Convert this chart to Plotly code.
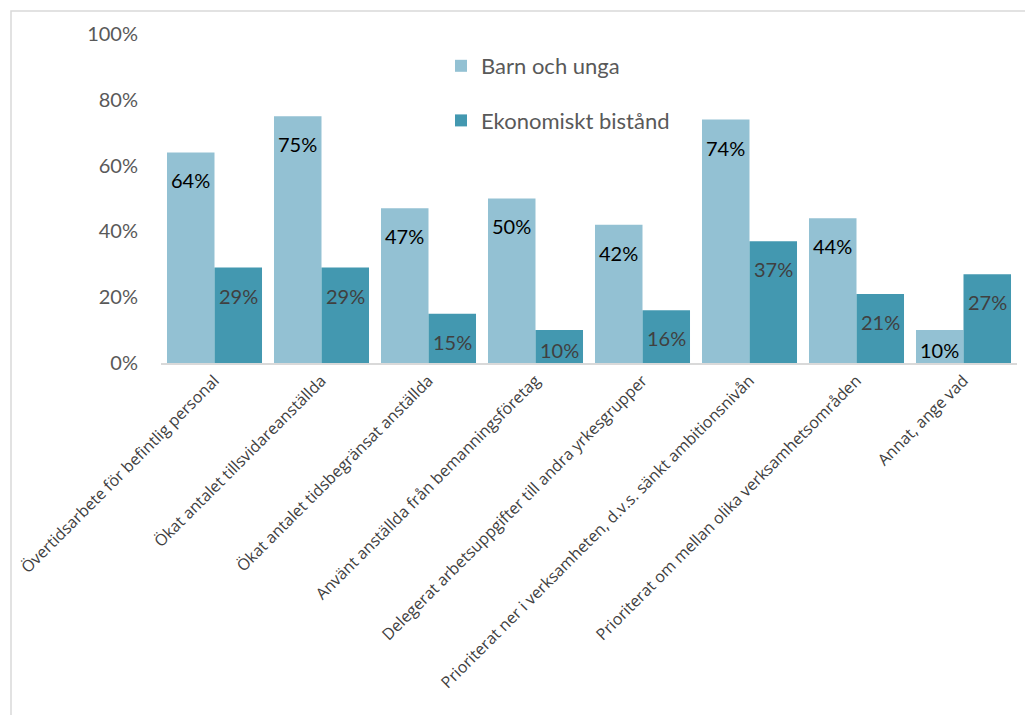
import plotly.graph_objects as go

categories = [
    "Övertidsarbete för befintlig personal",
    "Ökat antalet tillsvidareanställda",
    "Ökat antalet tidsbegränsat anställda",
    "Använt anställda från bemanningsföretag",
    "Delegerat arbetsuppgifter till andra yrkesgrupper",
    "Prioriterat ner i verksamheten, d.v.s. sänkt ambitionsnivån",
    "Prioriterat om mellan olika verksamhetsområden",
    "Annat, ange vad",
]
barn_och_unga = [64, 75, 47, 50, 42, 74, 44, 10]
ekonomiskt_bistand = [29, 29, 15, 10, 16, 37, 21, 27]
series_names = ["Barn och unga", "Ekonomiskt bistånd"]
y_ticks = [0, 20, 40, 60, 80, 100]
y_tick_labels = ["0%", "20%", "40%", "60%", "80%", "100%"]

LIGHT = "#93C1D3"
DARK = "#4398B0"

OFF = 8  # page body margin
W, H = 1033, 715
ML, MT = 161 - OFF, 34 - OFF
MR = W - (1017 - OFF)
MB = H - (363 - OFF)
pw = W - ML - MR
ph = H - MT - MB

fig = go.Figure()
fig.add_trace(go.Bar(x=categories, y=barn_och_unga, name=series_names[0],
                     marker=dict(color=LIGHT, line=dict(width=0)), legendgroup="a"))
fig.add_trace(go.Bar(x=categories, y=ekonomiskt_bistand, name=series_names[1],
                     marker=dict(color=DARK, line=dict(width=0)), legendgroup="b"))

# data labels
group_px = pw / len(categories)
bargap = 0.112
bar_px = group_px * (1 - bargap) / 2
for vals, sign, col in [(barn_och_unga, -1, "#000000"), (ekonomiskt_bistand, 1, "#404040")]:
    for c, v in zip(categories, vals):
        fig.add_annotation(x=c, y=max(v - 8.5, 4), text=f"{v}%", showarrow=False,
                           xshift=sign * bar_px / 2, yanchor="middle",
                           font=dict(family="Lato, Open Sans, sans-serif", size=20, color=col))

# outer border
fig.add_shape(type="rect", xref="paper", yref="paper",
              x0=(11 - OFF - ML) / pw, x1=(W + 20 - ML) / pw,
              y0=-(H + 20 - MT - ph) / ph, y1=(H - (11 - OFF) - MB) / ph,
              line=dict(color="#D9D9D9", width=1.5), fillcolor="rgba(0,0,0,0)", layer="below")

fig.update_layout(
    width=W, height=H,
    margin=dict(l=ML, r=MR, t=MT, b=MB, autoexpand=False),
    paper_bgcolor="white", plot_bgcolor="white",
    barmode="group", bargap=bargap, bargroupgap=0,
    showlegend=True,
    legend=dict(x=(441 - OFF - ML) / pw, y=(H - MB - (45 - OFF)) / ph, xanchor="left", yanchor="top",
                bgcolor="rgba(0,0,0,0)", traceorder="grouped", tracegroupgap=23,
                font=dict(family="Lato, Open Sans, sans-serif", size=22, color="#595959"),
                itemwidth=30),
    xaxis=dict(tickangle=-45, showgrid=False, showline=True, linecolor="#D9D9D9", linewidth=2,
               ticks="", tickfont=dict(family="Open Sans, sans-serif", size=16, color="#404040")),
    yaxis=dict(range=[0, 100], tickvals=y_ticks, ticktext=y_tick_labels, showgrid=False,
               zeroline=False, showline=False, ticks="", ticklabelstandoff=22,
               tickfont=dict(family="Lato, Open Sans, sans-serif", size=20, color="#595959")),
)

fig.write_html("out.html")
